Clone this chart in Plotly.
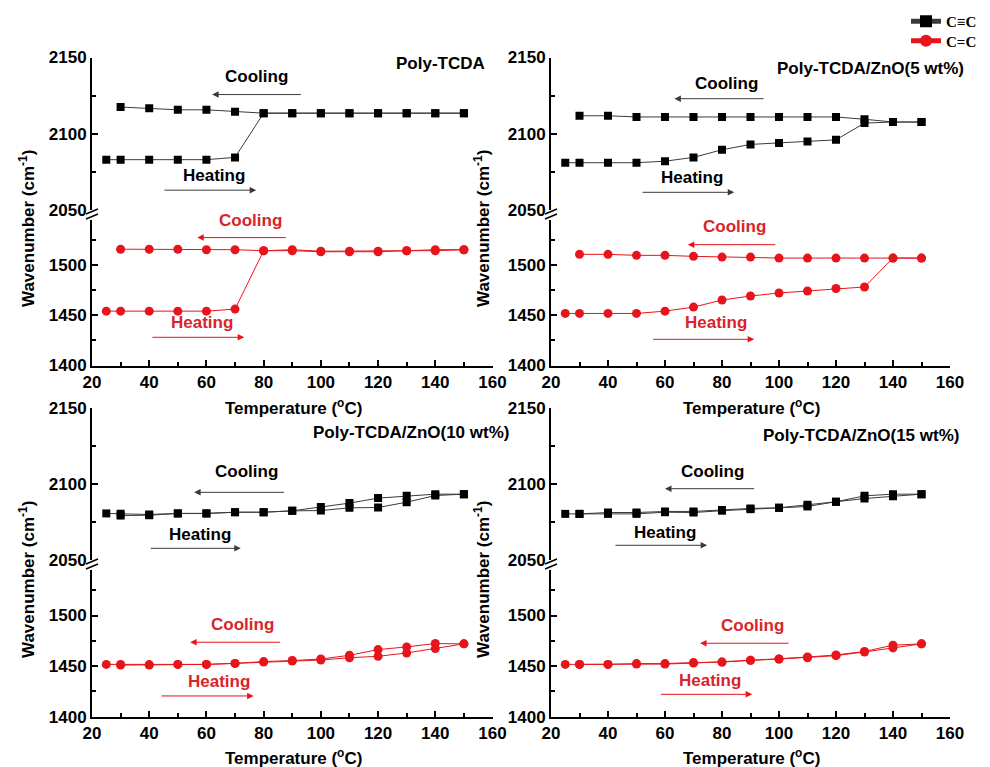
import plotly.graph_objects as go

# ---------------- data ----------------
temps_heating = [25, 30, 40, 50, 60, 70, 80, 90, 100, 110, 120, 130, 140, 150]
temps_cooling = [30, 40, 50, 60, 70, 80, 90, 100, 110, 120, 130, 140, 150]

panel_titles = ["Poly-TCDA", "Poly-TCDA/ZnO(5 wt%)",
                "Poly-TCDA/ZnO(10 wt%)", "Poly-TCDA/ZnO(15 wt%)"]

x_ticks = [20, 40, 60, 80, 100, 120, 140, 160]
y_ticks_top = [2050, 2100, 2150]
y_ticks_bottom = [1400, 1450, 1500]

# Poly-TCDA
p1_triple_heating = [2083, 2083, 2083, 2083, 2083, 2084.5, 2113.5, 2113.5, 2113.5, 2113.5, 2113.5, 2113.5, 2113.5, 2113.5]
p1_triple_cooling = [2117.5, 2116.7, 2115.7, 2115.7, 2114.5, 2113.5, 2113.5, 2113.5, 2113.5, 2113.5, 2113.5, 2113.5, 2113.5]
p1_double_heating = [1454, 1454, 1454, 1454, 1454, 1456, 1514, 1514, 1513, 1513, 1513, 1514, 1514, 1515]
p1_double_cooling = [1515.5, 1515.5, 1515.5, 1515, 1515, 1514, 1515, 1513.5, 1513.5, 1513.5, 1514, 1515, 1515]

# Poly-TCDA/ZnO (5 wt%)
p2_triple_heating = [2081, 2081, 2081, 2081, 2082, 2084.5, 2089.5, 2093, 2094, 2095, 2096, 2107, 2107.7, 2107.7]
p2_triple_cooling = [2111.8, 2111.8, 2111, 2111, 2111, 2111, 2111, 2111, 2111, 2111, 2109.5, 2107.7, 2107.7]
p2_double_heating = [1451.7, 1451.7, 1451.7, 1451.7, 1454, 1458, 1465, 1469, 1472, 1474, 1476.5, 1478, 1506.7, 1506.7]
p2_double_cooling = [1510.4, 1510.4, 1509.4, 1509.4, 1508.4, 1507.7, 1507.7, 1506.7, 1506.7, 1506.7, 1506.7, 1506.7, 1506.7]

# Poly-TCDA/ZnO (10 wt%)
p3_triple_heating = [2080.7, 2080.5, 2080, 2080.7, 2080.7, 2081.5, 2081.5, 2082.4, 2082.6, 2084.4, 2084.6, 2088.1, 2092.5, 2093.4]
p3_triple_cooling = [2079.3, 2079.5, 2080.7, 2080.7, 2081.5, 2081.5, 2082.4, 2085, 2087.5, 2090.8, 2092.3, 2093.4, 2093.4]
p3_double_heating = [1451.7, 1451.7, 1451.5, 1451.7, 1451.7, 1452.7, 1454, 1455, 1456, 1458.3, 1459.7, 1463, 1467.3, 1472]
p3_double_cooling = [1451, 1451, 1451.7, 1451.7, 1452.7, 1454.5, 1455.5, 1457, 1460.7, 1466.3, 1469, 1472.3, 1472]

# Poly-TCDA/ZnO (15 wt%)
p4_triple_heating = [2080.4, 2080.4, 2080.4, 2080.4, 2081.5, 2081.3, 2082.5, 2083.5, 2084.4, 2085.3, 2088.4, 2090.5, 2092, 2093.4]
p4_triple_cooling = [2080.4, 2081.3, 2081.3, 2082, 2082, 2083, 2084, 2084.4, 2086.4, 2088.4, 2092.3, 2093.4, 2093.4]
p4_double_heating = [1451.7, 1451.7, 1451.7, 1452, 1452, 1453, 1454, 1455.7, 1457, 1458.3, 1460.3, 1464, 1468, 1472]
p4_double_cooling = [1451.7, 1451.7, 1452.5, 1452.5, 1453.5, 1454, 1455.7, 1457, 1459, 1461, 1464.5, 1470.7, 1472]

panels = [
    (p1_triple_heating, p1_triple_cooling, p1_double_heating, p1_double_cooling),
    (p2_triple_heating, p2_triple_cooling, p2_double_heating, p2_double_cooling),
    (p3_triple_heating, p3_triple_cooling, p3_double_heating, p3_double_cooling),
    (p4_triple_heating, p4_triple_cooling, p4_double_heating, p4_double_cooling),
]

# ---------------- layout / style ----------------
W, H = 990, 767
def px(x): return x / W
def py(y): return 1 - y / H

BLACK_LINE = "#3a3a3a"
RED = "#e8141c"
RED_TEXT = "#d8242a"
SANS = "Liberation Sans, Arial, sans-serif"
SERIF = "Liberation Serif, Times New Roman, serif"

cols = [(92, 492.5), (551, 950)]
rows = [(57.5, 210, 219.5, 365.5), (408.3, 560, 570, 716.7)]

# per panel annotation layout (data coords): (text_x, text_y, tail_x, head_x, arrow_y)
arrow_layout = [
    {"cool_k": (77.4, 2137.5, 93.5, 62, 2125.7), "heat_k": (62.7, 2072.4, 44.8, 77.4, 2063),
     "cool_r": (75.3, 1544, 88.3, 56.8, 1527), "heat_r": (58.5, 1443, 40.6, 73.2, 1428)},
    {"cool_k": (81.6, 2133, 95.1, 63.3, 2123), "heat_k": (69.6, 2071, 51.6, 84.3, 2061.6),
     "cool_r": (84.3, 1538, 99.2, 68, 1520), "heat_r": (77.8, 1443, 55.3, 91.3, 1426)},
    {"cool_k": (74.1, 2108.2, 87.6, 55.7, 2094.6), "heat_k": (57.6, 2067, 40, 72, 2057.7),
     "cool_r": (72.7, 1490.8, 86.2, 54.3, 1473.6), "heat_r": (64.4, 1434.7, 43.8, 76.5, 1420.5)},
    {"cool_k": (76.7, 2108.2, 91.8, 60, 2097), "heat_k": (60, 2068.3, 42.1, 74.8, 2059.7),
     "cool_r": (90.6, 1490, 103.9, 72.3, 1472.6), "heat_r": (75.8, 1435.3, 58, 90.6, 1422.1)},
]

# title placement (px): (x, y, xanchor)
title_pos = [(487, 63, "right"), (966, 68, "right"), (311, 432, "left"), (961, 435, "right")]

legend_font = dict(family=SERIF, size=15, color="black", weight="bold")
fig = go.Figure()
layout = dict(
    width=W, height=H, margin=dict(l=0, r=0, t=0, b=0),
    paper_bgcolor="white", plot_bgcolor="white",
    showlegend=True,
    legend=dict(x=px(906), y=py(5), xanchor="left", yanchor="top", font=legend_font,
                bgcolor="rgba(0,0,0,0)", itemsizing="constant"),
    legend2=dict(x=px(906), y=py(24.5), xanchor="left", yanchor="top", font=legend_font,
                 bgcolor="rgba(0,0,0,0)", itemsizing="constant"),
    annotations=[], shapes=[],
)

tick_font = dict(family=SANS, size=17, color="black", weight="bold")
text_font = dict(family=SANS, size=17, color="black", weight="bold")

for k, (th, tc, dh, dc) in enumerate(panels):
    r, c = k // 2, k % 2
    x0, x1 = cols[c]
    yt0, yt1, yb0, yb1 = rows[r]
    xname = "xaxis" if k == 0 else f"xaxis{k+1}"
    xref = "x" if k == 0 else f"x{k+1}"
    it, ib = 2 * k + 1, 2 * k + 2
    ytname = "yaxis" if it == 1 else f"yaxis{it}"
    ytref = "y" if it == 1 else f"y{it}"
    ybname = f"yaxis{ib}"
    ybref = f"y{ib}"

    common = dict(showline=True, linewidth=2, linecolor="black", showgrid=False,
                  zeroline=False, ticks="inside", ticklen=6, tickwidth=1.5,
                  tickcolor="black", tickfont=tick_font, automargin=False, fixedrange=True)
    layout[xname] = dict(domain=[px(x0), px(x1)], anchor=ybref, range=[20, 160],
                         tickvals=x_ticks,
                         minor=dict(tickmode="array", tickvals=list(range(30, 160, 20)), ticks="inside",
                                    ticklen=4, tickwidth=1.5, tickcolor="black"),
                         **common)
    layout[ytname] = dict(domain=[py(yt1), py(yt0)], anchor=xref, range=[2050, 2150],
                          tickvals=y_ticks_top,
                          minor=dict(tickmode="array", tickvals=[2075, 2125], ticks="inside",
                                     ticklen=4, tickwidth=1.5, tickcolor="black"),
                          **common)
    layout[ybname] = dict(domain=[py(yb1), py(yb0)], anchor=xref, range=[1400, 1545],
                          tickvals=y_ticks_bottom,
                          minor=dict(tickmode="array", tickvals=[1425, 1475, 1525], ticks="inside",
                                     ticklen=4, tickwidth=1.5, tickcolor="black"),
                          **common)

    sq = dict(symbol="square", size=8, color="black")
    ci = dict(symbol="circle", size=9, color=RED)
    fig.add_trace(go.Scatter(x=temps_heating, y=th, xaxis=xref, yaxis=ytref, mode="lines+markers",
                             marker=sq, line=dict(color=BLACK_LINE, width=1),
                             name="C\u2261C", showlegend=(k == 0), legend="legend"))
    fig.add_trace(go.Scatter(x=temps_cooling, y=tc, xaxis=xref, yaxis=ytref, mode="lines+markers",
                             marker=sq, line=dict(color=BLACK_LINE, width=1), showlegend=False))
    fig.add_trace(go.Scatter(x=temps_heating, y=dh, xaxis=xref, yaxis=ybref, mode="lines+markers",
                             marker=ci, line=dict(color=RED, width=1),
                             name="C=C", showlegend=(k == 0), legend="legend2"))
    fig.add_trace(go.Scatter(x=temps_cooling, y=dc, xaxis=xref, yaxis=ybref, mode="lines+markers",
                             marker=ci, line=dict(color=RED, width=1), showlegend=False))

    # cooling / heating labels and arrows
    al = arrow_layout[k]
    for key, yref, col, tcol, label in [("cool_k", ytref, BLACK_LINE, "black", "Cooling"),
                                        ("heat_k", ytref, BLACK_LINE, "black", "Heating"),
                                        ("cool_r", ybref, RED, RED_TEXT, "Cooling"),
                                        ("heat_r", ybref, RED, RED_TEXT, "Heating")]:
        tx, ty, ax_, hx, ay_ = al[key]
        layout["annotations"].append(dict(x=tx, y=ty, xref=xref, yref=yref, text=label,
                                          xanchor="center", yanchor="middle",
                                          showarrow=False, font=dict(text_font, color=tcol)))
        layout["annotations"].append(dict(x=hx, y=ay_, ax=ax_, ay=ay_, xref=xref, yref=yref,
                                          axref=xref, ayref=yref, text="", showarrow=True,
                                          arrowhead=2, arrowsize=1.3, arrowwidth=1,
                                          arrowcolor=col, standoff=0, startstandoff=0))

    # panel title
    tx, ty, anc = title_pos[k]
    layout["annotations"].append(dict(x=px(tx), y=py(ty), xref="paper", yref="paper",
                                      text=panel_titles[k], showarrow=False, xanchor=anc,
                                      yanchor="middle", font=text_font))
    # axis titles
    xt_y = 407 if r == 0 else 757
    layout["annotations"].append(dict(x=px(293 if c == 0 else 751), y=py(xt_y), xref="paper", yref="paper",
                                      text="Temperature (<sup>o</sup>C)", showarrow=False,
                                      xanchor="center", yanchor="middle", font=text_font))
    layout["annotations"].append(dict(x=px(27 if c == 0 else 482), y=py(229 if r == 0 else 580),
                                      xref="paper", yref="paper",
                                      text="Wavenumber (cm<sup>-1</sup>)", showarrow=False,
                                      xanchor="center", yanchor="middle",
                                      textangle=-90, font=text_font))
    # axis break marks
    for dy in (0, 5):
        layout["shapes"].append(dict(type="line", xref="paper", yref="paper",
                                     x0=px(x0 - 6), y0=py(yt1 + 4 + dy), x1=px(x0 + 6), y1=py(yt1 - 1 + dy),
                                     line=dict(color="black", width=1.5)))

fig.update_layout(**layout)
fig.write_html("out.html", config={"responsive": False, "displayModeBar": False},
               post_script="document.body.style.margin='0px';document.body.style.overflow='hidden';")
